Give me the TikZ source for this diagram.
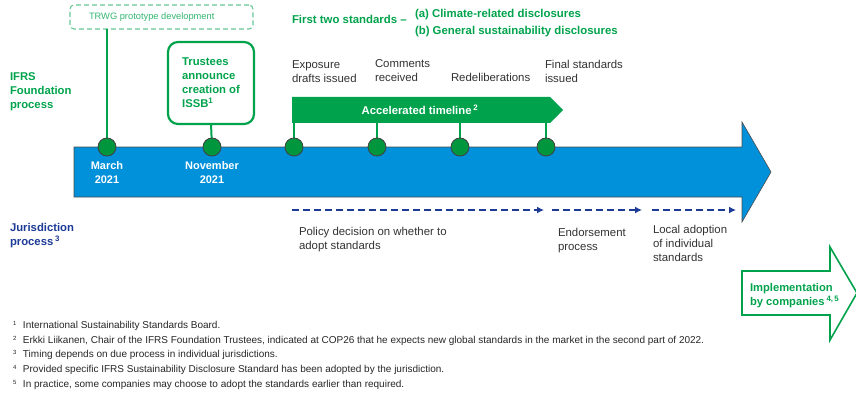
\documentclass[tikz,border=0pt]{standalone}
\usepackage{fontspec}
\setmainfont{Liberation Sans}
\usetikzlibrary{positioning,arrows.meta}

\definecolor{ifrsgreen}{RGB}{0,163,76}
\definecolor{dotgreen}{RGB}{0,150,62}
\definecolor{ifrsblue}{RGB}{0,145,218}
\definecolor{jurblue}{RGB}{28,58,150}
\definecolor{textgray}{RGB}{50,50,50}

\begin{document}
\begin{tikzpicture}[x=1pt, y=-1pt,
  every node/.style = {inner sep=0pt, outer sep=0pt},
  heading/.style = {text=ifrsgreen, align=left, anchor=north west,
    font=\bfseries\fontsize{11.3}{14}\selectfont},
  event/.style = {text=textgray, align=left, anchor=north west,
    font=\fontsize{11.4}{14}\selectfont},
  date/.style = {text=white, align=center, anchor=north,
    font=\bfseries\fontsize{11}{14}\selectfont},
  milestone/.style = {circle, draw=black!75, line width=0.8pt,
    fill=dotgreen, minimum size=18pt},
  stem/.style = {draw=ifrsgreen, line width=2pt},
  jurarrow/.style = {draw=jurblue, line width=2.2pt,
    dash pattern=on 7pt off 4pt, -{Latex[length=7pt,width=7pt]}},
  footnote/.style = {text=black!85, anchor=base west,
    font=\fontsize{10}{12}\selectfont}]

  \clip (0,0) rectangle (856,401);

  % main blue timeline arrow
  \fill[ifrsblue, draw=black!70, line width=0.6pt]
    (74,147) -- (742,147) -- (742,122) -- (771,172)
    -- (742,222) -- (742,197) -- (74,197) -- cycle;

  % accelerated timeline arrow
  \fill[ifrsgreen] (292,97) -- (550,97) -- (563,110)
    -- (550,123) -- (292,123) -- cycle;
  \node[text=white, font=\bfseries\fontsize{11.3}{14}\selectfont]
    (accel) at (420,110) {Accelerated timeline\,\textsuperscript{2}};

  % boxes above the timeline
  \node[draw=ifrsgreen!60, dash pattern=on 5pt off 3pt, line width=1.1pt,
    rounded corners=4pt, minimum width=183pt, minimum height=24pt]
    (trwg) at (161.5,17) {};
  \node[text=ifrsgreen!80, anchor=west, font=\fontsize{9.3}{11}\selectfont]
    (trwglbl) at (89,17) {TRWG prototype development};
  \node[draw=ifrsgreen, line width=2.2pt, rounded corners=10pt,
    minimum width=86pt, minimum height=82pt, align=left,
    text=ifrsgreen, font=\bfseries\fontsize{11.3}{14}\selectfont]
    (trustees) at (211,83)
    {Trustees\\announce\\creation of\\ISSB\textsuperscript{1}};

  % milestone positions
  \coordinate (march) at (107,147);
  \coordinate (nov)   at (212,147);
  \coordinate (expo)  at (294,147);
  \coordinate (comm)  at (377,147);
  \coordinate (redel) at (460,147);
  \coordinate (final) at (546,147);

  \draw[stem, line width=1.2pt] (march) -- (march |- trwg.south);
  \draw[stem] (nov) -- (trustees.south);
  \foreach \m in {expo, comm, redel, final}
    \draw[stem] (\m) -- (\m |- 0,123);
  \foreach \m in {march, nov, expo, comm, redel, final}
    \node[milestone] (\m dot) at (\m) {};

  \node[date] (marchlbl) at (107,162) {March\\2021};
  \node[date] (novlbl)   at (212,162) {November\\2021};

  % side headings
  \node[heading] (ifrs) at (10,73) {IFRS\\Foundation\\process};
  \node[heading, text=jurblue] (jur) at (10,223)
    {Jurisdiction\\process\,\textsuperscript{3}};

  \node[heading, font=\bfseries\fontsize{11.4}{17}\selectfont]
    (firsttwo) at (292,15) {First two standards --};
  \node[heading, font=\bfseries\fontsize{11.4}{17}\selectfont]
    (ab) at (415,9)
    {(a) Climate-related disclosures\\(b) General sustainability disclosures};

  % steps of the accelerated timeline
  \node[event] (expolbl)  at (292,61) {Exposure\\drafts issued};
  \node[event] (commlbl)  at (375,60) {Comments\\received};
  \node[event] (redellbl) at (451,73) {Redeliberations};
  \node[event] (finallbl) at (545,60) {Final standards\\issued};

  % jurisdiction process
  \coordinate (j0) at (292,210);
  \coordinate (j1) at (544,210);
  \coordinate (j2) at (552,210);
  \coordinate (j3) at (642,210);
  \coordinate (j4) at (652,210);
  \coordinate (j5) at (736,210);
  \draw[jurarrow] (j0) -- (j1);
  \draw[jurarrow] (j2) -- (j3);
  \draw[jurarrow] (j4) -- (j5);

  \node[event] (policy) at (299,227)
    {Policy decision on whether to\\adopt standards};
  \node[event] (endorse) at (558,228) {Endorsement\\process};
  \node[event] (local) at (653,225) {Local adoption\\of individual\\standards};

  % implementation arrow
  \draw[ifrsgreen, line width=1.6pt, fill=white, line join=miter]
    (742,271) -- (830,271) -- (830,247) -- (857,293)
    -- (830,340) -- (830,315) -- (742,315) -- cycle;
  \node[heading, font=\bfseries\fontsize{11.2}{14}\selectfont]
    (impl) at (750,283)
    {Implementation\\by companies\,\textsuperscript{4,\,5}};

  % notes
  \foreach \txt [count=\i] in {
    {International Sustainability Standards Board.},
    {Erkki Liikanen, Chair of the IFRS Foundation Trustees, indicated at COP26 that he expects new global standards in the market in the second part of 2022.},
    {Timing depends on due process in individual jurisdictions.},
    {Provided specific IFRS Sustainability Disclosure Standard has been adopted by the jurisdiction.},
    {In practice, some companies may choose to adopt the standards earlier than required.}}
  {
    \node[footnote, font=\fontsize{6}{7}\selectfont] (fn\i) at (13,310.5+14.75*\i) {\i};
    \node[footnote] (fntxt\i) at (23,313.5+14.75*\i) {\txt};
  }
\end{tikzpicture}
\end{document}
